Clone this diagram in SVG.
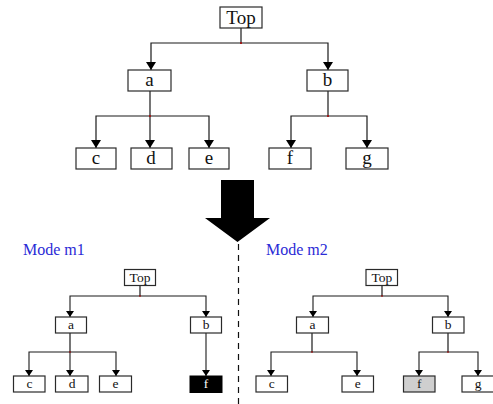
<svg xmlns="http://www.w3.org/2000/svg" width="493" height="404" viewBox="0 0 493 404" font-family="Liberation Serif, Times New Roman, serif">
  <style>
    .box { fill: #ffffff; stroke: #2a2a2a; stroke-width: 1.2; }
    .lbl { fill: #111; text-anchor: middle; }
    .big { font-size: 19px; }
    .small { font-size: 13.5px; }
    .mode { font-size: 16px; fill: #2b2bd6; }
    .wire { fill: none; stroke: #1a1a1a; stroke-width: 1.2; }
    .arrL { fill: none; stroke: #1a1a1a; stroke-width: 1.2; marker-end: url(#headL); }
    .arrS { fill: none; stroke: #1a1a1a; stroke-width: 1.1; marker-end: url(#headS); }
    .dot { fill: #9a1a1a; }
    .inv { fill: #ffffff; }
  </style>
  <defs>
    <marker id="headL" markerUnits="userSpaceOnUse" markerWidth="10" markerHeight="10" viewBox="0 0 8 10" refX="8" refY="5" orient="auto">
      <path d="M0,0 L8,5 L0,10 Z" fill="#000"/>
    </marker>
    <marker id="headS" markerUnits="userSpaceOnUse" markerWidth="8" markerHeight="8" viewBox="0 0 6 8" refX="6" refY="4" orient="auto">
      <path d="M0,0 L6,4 L0,8 Z" fill="#000"/>
    </marker>
  </defs>

  <rect width="493" height="404" fill="#ffffff"/>

  <!-- connectors -->
  <g id="connectors">
    <!-- upper tree -->
    <polyline class="wire" points="241,28 241,43"/>
    <polyline class="arrL" points="241,43 151,43 151,70"/>
    <polyline class="arrL" points="241,43 328,43 328,70"/>
    <polyline class="wire" points="150,91 150,116"/>
    <polyline class="arrL" points="150,116 96,116 96,148"/>
    <polyline class="arrL" points="150,116 150,148"/>
    <polyline class="arrL" points="150,116 209,116 209,148"/>
    <polyline class="wire" points="328,91 328,116"/>
    <polyline class="arrL" points="328,116 291,116 291,148"/>
    <polyline class="arrL" points="328,116 367,116 367,148"/>
    <rect class="dot" x="240" y="42" width="2" height="2"/>
    <rect class="dot" x="149" y="115" width="2" height="2"/>
    <rect class="dot" x="327" y="115" width="2" height="2"/>

    <!-- mode m1 tree -->
    <polyline class="wire" points="140,285 140,296"/>
    <polyline class="arrS" points="140,296 70,296 70,317"/>
    <polyline class="arrS" points="140,296 206,296 206,317"/>
    <polyline class="wire" points="70,333 70,352"/>
    <polyline class="arrS" points="70,352 29,352 29,376"/>
    <polyline class="arrS" points="70,352 70,376"/>
    <polyline class="arrS" points="70,352 116,352 116,376"/>
    <polyline class="arrS" points="206,333 206,376"/>
    <rect class="dot" x="139.2" y="295.2" width="1.6" height="1.6"/>
    <rect class="dot" x="69.2" y="351.2" width="1.6" height="1.6"/>

    <!-- mode m2 tree -->
    <polyline class="wire" points="382,285 382,296"/>
    <polyline class="arrS" points="382,296 313,296 313,317"/>
    <polyline class="arrS" points="382,296 448,296 448,317"/>
    <polyline class="wire" points="312,333 312,352"/>
    <polyline class="arrS" points="312,352 271,352 271,376"/>
    <polyline class="arrS" points="312,352 357,352 357,376"/>
    <polyline class="wire" points="448,333 448,352"/>
    <polyline class="arrS" points="448,352 419,352 419,376"/>
    <polyline class="arrS" points="448,352 478,352 478,376"/>
    <rect class="dot" x="381.2" y="295.2" width="1.6" height="1.6"/>
    <rect class="dot" x="311.2" y="351.2" width="1.6" height="1.6"/>
    <rect class="dot" x="447.2" y="351.2" width="1.6" height="1.6"/>
  </g>

  <!-- transformation arrow and mode divider -->
  <polygon points="221,180 254,180 254,218 270,218 237.5,242 205,218 221,218" fill="#000"/>
  <line x1="238.5" y1="244" x2="238.5" y2="404" stroke="#111" stroke-width="1.2" stroke-dasharray="6,5"/>

  <text class="mode" x="23" y="255" font-family="Liberation Serif">Mode m1</text>
  <text class="mode" x="266" y="255" font-family="Liberation Serif">Mode m2</text>

  <!-- upper tree nodes -->
  <g id="top" font-family="Liberation Serif"><rect class="box" x="220" y="7" width="42" height="21"/><text class="lbl big" x="241" y="24">Top</text></g>
  <g id="a" font-family="Liberation Serif"><rect class="box" x="128" y="70" width="43" height="21"/><text class="lbl big" x="149.5" y="86">a</text></g>
  <g id="b" font-family="Liberation Serif"><rect class="box" x="307" y="70" width="41" height="21"/><text class="lbl big" x="327.5" y="86">b</text></g>
  <g id="c" font-family="Liberation Serif"><rect class="box" x="76" y="148" width="40" height="21"/><text class="lbl big" x="96" y="164">c</text></g>
  <g id="d" font-family="Liberation Serif"><rect class="box" x="131" y="148" width="41" height="21"/><text class="lbl big" x="151" y="164">d</text></g>
  <g id="e" font-family="Liberation Serif"><rect class="box" x="189" y="148" width="40" height="21"/><text class="lbl big" x="209" y="164">e</text></g>
  <g id="f" font-family="Liberation Serif"><rect class="box" x="269" y="148" width="42" height="21"/><text class="lbl big" x="290" y="164">f</text></g>
  <g id="g" font-family="Liberation Serif"><rect class="box" x="346" y="148" width="42" height="21"/><text class="lbl big" x="367" y="164">g</text></g>

  <!-- mode m1 nodes -->
  <g id="m1-top" font-family="Liberation Serif"><rect class="box" x="124.5" y="269.5" width="31" height="16"/><text class="lbl small" x="140" y="282">Top</text></g>
  <g id="m1-a" font-family="Liberation Serif"><rect class="box" x="55.5" y="317" width="31" height="16"/><text class="lbl small" x="71" y="329">a</text></g>
  <g id="m1-b" font-family="Liberation Serif"><rect class="box" x="190.5" y="317" width="31" height="16"/><text class="lbl small" x="206" y="329">b</text></g>
  <g id="m1-c" font-family="Liberation Serif"><rect class="box" x="13.5" y="376" width="31.5" height="16"/><text class="lbl small" x="29.5" y="388">c</text></g>
  <g id="m1-d" font-family="Liberation Serif"><rect class="box" x="55.5" y="376" width="32.5" height="16"/><text class="lbl small" x="72" y="388">d</text></g>
  <g id="m1-e" font-family="Liberation Serif"><rect class="box" x="99.5" y="376" width="32" height="16"/><text class="lbl small" x="115.5" y="388">e</text></g>
  <g id="m1-f" font-family="Liberation Serif"><rect x="190" y="376" width="32" height="16.5" fill="#000" stroke="#000" stroke-width="1"/><text class="lbl small inv" x="206" y="388">f</text></g>

  <!-- mode m2 nodes -->
  <g id="m2-top" font-family="Liberation Serif"><rect class="box" x="366" y="269.5" width="31.5" height="16"/><text class="lbl small" x="381.8" y="282">Top</text></g>
  <g id="m2-a" font-family="Liberation Serif"><rect class="box" x="296.5" y="317" width="32" height="16"/><text class="lbl small" x="312.5" y="329">a</text></g>
  <g id="m2-b" font-family="Liberation Serif"><rect class="box" x="432.5" y="317" width="31.5" height="16"/><text class="lbl small" x="448.2" y="329">b</text></g>
  <g id="m2-c" font-family="Liberation Serif"><rect class="box" x="256" y="376" width="31.5" height="16"/><text class="lbl small" x="271.7" y="388">c</text></g>
  <g id="m2-e" font-family="Liberation Serif"><rect class="box" x="342" y="376" width="31.5" height="16"/><text class="lbl small" x="357.7" y="388">e</text></g>
  <g id="m2-f" font-family="Liberation Serif"><rect x="403.5" y="376" width="31.5" height="16" fill="#cfcfcf" stroke="#2a2a2a" stroke-width="1.2"/><text class="lbl small" x="419.2" y="388">f</text></g>
  <g id="m2-g" font-family="Liberation Serif"><rect class="box" x="462" y="376" width="34" height="16"/><text class="lbl small" x="478" y="388">g</text></g>
</svg>
